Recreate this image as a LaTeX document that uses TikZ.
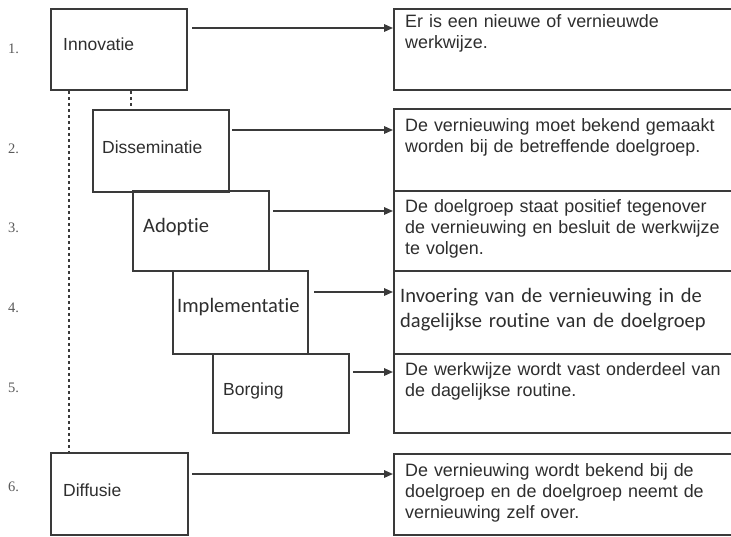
\documentclass[tikz,border=0pt]{standalone}
\usepackage{fontspec}
\setmainfont{Liberation Sans}
\newfontfamily\calfont[RawFeature=-liga]{Carlito}
\newfontfamily\numfont{Liberation Serif}
\usetikzlibrary{arrows.meta}
\definecolor{linec}{HTML}{3A3A3A}
\definecolor{txtc}{HTML}{2E2E2E}
\begin{document}
\begin{tikzpicture}[x=1pt,y=-1pt,
  box/.style={draw=linec, line width=2pt, inner sep=0pt, anchor=north west, fill=none},
  lab/.style={anchor=base west, inner sep=0pt, text=txtc, font=\fontsize{17.5}{21}\selectfont},
  clab/.style={anchor=base west, inner sep=0pt, text=txtc, font=\calfont\fontsize{20.5}{25}\selectfont},
  num/.style={anchor=base west, inner sep=0pt, text=black!65, font=\numfont\fontsize{14.5}{16}\selectfont},
  desc/.style={anchor=base west, inner sep=0pt, text=txtc, text width=330pt, align=left, font=\fontsize{17.9}{21}\selectfont},
  cdesc/.style={anchor=base west, inner sep=0pt, text=txtc, text width=330pt, align=left, font=\calfont\fontsize{20.5}{25}\selectfont},
  arr/.style={draw=linec, line width=1.6pt, -{Triangle[length=9pt,width=7.5pt]}},
  dsh/.style={draw=linec, line width=1.8pt, dash pattern=on 3pt off 3pt}]
\clip (0,0) rectangle (731,536);
\fill[white] (0,0) rectangle (731,536);
% left boxes
\node[box, minimum width=136pt, minimum height=81pt] (inno) at (50,8) {};
\node[box, minimum width=136pt, minimum height=82pt] (diss) at (92,109) {};
\node[box, minimum width=136pt, minimum height=80pt] (adop) at (132,190) {};
\node[box, minimum width=135pt, minimum height=83pt] (impl) at (172,270) {};
\node[box, minimum width=136pt, minimum height=79pt] (borg) at (212,353) {};
\node[box, minimum width=137pt, minimum height=82pt] (diff) at (50,452) {};
% right boxes
\node[box, minimum width=345pt, minimum height=81pt] (d1) at (393,8) {};
\node[box, minimum width=345pt, minimum height=82pt] (d2) at (393,108) {};
\node[box, minimum width=345pt, minimum height=80pt] (d3) at (393,190) {};
\node[box, minimum width=345pt, minimum height=83pt] (d4) at (393,270) {};
\node[box, minimum width=345pt, minimum height=79pt] (d5) at (393,353) {};
\node[box, minimum width=345pt, minimum height=81pt] (d6) at (393,453) {};
% numbers
\node[num] (n1) at (8,53) {1.};
\node[num] (n2) at (8,153) {2.};
\node[num] (n3) at (8,232) {3.};
\node[num] (n4) at (8,312) {4.};
\node[num] (n5) at (8,392) {5.};
\node[num] (n6) at (8,491) {6.};
% left labels
\node[lab] (l1) at (63,50) {Innovatie};
\node[lab] (l2) at (102,153) {Disseminatie};
\node[clab] (l3) at (143,232) {Adoptie};
\node[clab] (l4) at (177,312) {Implementatie};
\node[lab] (l5) at (223,395) {Borging};
\node[lab] (l6) at (63,496) {Diffusie};
% descriptions
\node[desc] (t1) at (405,27) {Er is een nieuwe of vernieuwde\\werkwijze.};
\node[desc] (t2) at (405,131) {De vernieuwing moet bekend gemaakt\\worden bij de betreffende doelgroep.};
\node[desc] (t3) at (405,212) {De doelgroep staat positief tegenover\\de vernieuwing en besluit de werkwijze\\te volgen.};
\node[cdesc] (t4) at (400,302) {Invoering van de vernieuwing in de\\dagelijkse routine van de doelgroep};
\node[desc] (t5) at (405,375) {De werkwijze wordt vast onderdeel van\\de dagelijkse routine.};
\node[desc] (t6) at (405,476) {De vernieuwing wordt bekend bij de\\doelgroep en de doelgroep neemt de\\vernieuwing zelf over.};
% arrows
\coordinate (s1) at (192,28);
\coordinate (s2) at (232,130);
\coordinate (s3) at (273,211);
\coordinate (s4) at (314,292);
\coordinate (s5) at (353,372);
\coordinate (s6) at (192,474);
\draw[arr] (s1) -- (s1 -| d1.west);
\draw[arr] (s2) -- (s2 -| d2.west);
\draw[arr] (s3) -- (s3 -| d3.west);
\draw[arr] (s4) -- (s4 -| d4.west);
\draw[arr] (s5) -- (s5 -| d5.west);
\draw[arr] (s6) -- (s6 -| d6.west);
% dotted lines
\draw[dsh] ([xshift=19pt]inno.south west) -- ([xshift=19pt]diff.north west);
\draw[dsh] ([xshift=81pt]inno.south west) -- ([xshift=81pt]inno.south west |- diss.north);
\end{tikzpicture}
\end{document}
